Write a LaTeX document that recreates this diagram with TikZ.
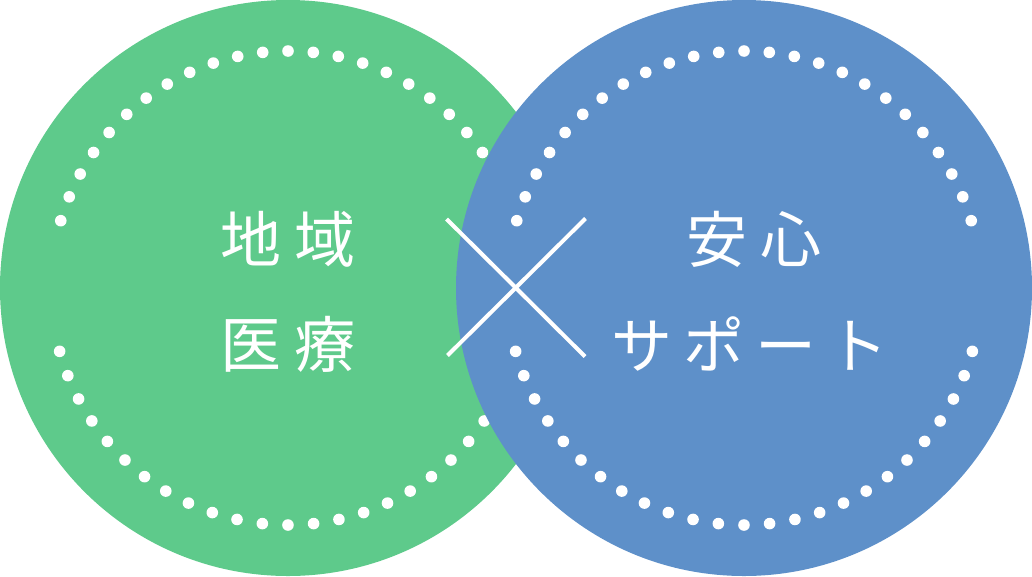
\documentclass[tikz,border=0pt]{standalone}
\usepackage{fontspec}
\usetikzlibrary{calc}
\newfontfamily\jpfont{Noto Sans CJK JP}
\definecolor{cgreen}{HTML}{5ECA8B}
\definecolor{cblue}{HTML}{5E90C9}
\begin{document}
\begin{tikzpicture}[x=1pt,y=-1pt,
  bigcircle/.style={circle,inner sep=0pt,minimum size=576pt},
  dotmark/.style={fill=white},
  label/.style={text=white,font=\jpfont\fontsize{61}{61}\selectfont,inner sep=0pt,anchor=center},
  crossline/.style={draw=white,line width=4pt}]
\useasboundingbox (0,0) rectangle (1032,576);
% green circle and its dotted ring
\node[bigcircle,fill=cgreen] (green) at (288,288) {};
\foreach \k in {0,...,24}{
  \fill[dotmark] ($(288,288)+({16.5+\k*6.125}:237 and -237)$) circle (5.8);
  \fill[dotmark] ($(288,288)+({195.5+\k*6.208}:237 and -237)$) circle (5.8);
}
% blue circle and its dotted ring
\node[bigcircle,fill=cblue] (blue) at (744,288) {};
\foreach \k in {0,...,24}{
  \fill[dotmark] ($(744,288)+({16.5+\k*6.125}:237 and -237)$) circle (5.8);
  \fill[dotmark] ($(744,288)+({195.5+\k*6.208}:237 and -237)$) circle (5.8);
}
% texts
\node[label] (t1) at (288,239) {地\hspace{13pt}域};
\node[label] (t2) at (288,344) {医\hspace{13pt}療};
\node[label] (t3) at (754,239) {安\hspace{13pt}心};
\node[label] (t4) at (750,344) {サ\hspace{11pt}ポ\hspace{11pt}ー\hspace{11pt}ト};
% cross
\coordinate (c1) at (446.5,219);
\coordinate (c2) at (585,356.5);
\coordinate (c3) at (447.5,355.5);
\coordinate (c4) at (585.5,218.5);
\draw[crossline] (c1) -- (c2);
\draw[crossline] (c3) -- (c4);
\end{tikzpicture}
\end{document}
